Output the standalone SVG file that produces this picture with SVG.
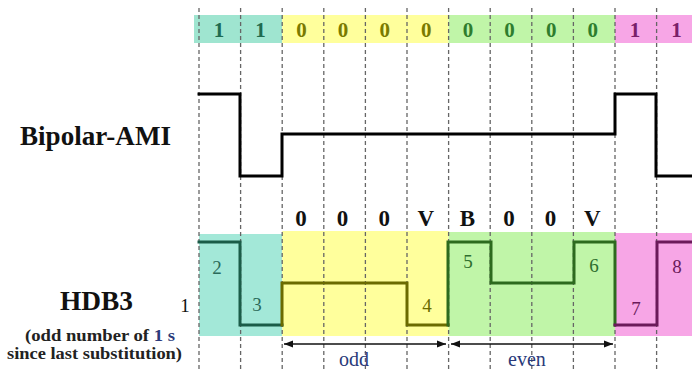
<svg xmlns="http://www.w3.org/2000/svg" width="692" height="370" viewBox="0 0 692 370">
  <style>
    text { font-family: Liberation Serif, Tinos, DejaVu Serif, Times New Roman, serif; }
    .grid { stroke: #666; stroke-width: 1.3; stroke-dasharray: 4 3; fill: none; }
    .bit { font-weight: bold; font-size: 21px; text-anchor: middle; }
    .code { font-weight: bold; font-size: 23px; text-anchor: middle; fill: #111; }
    .num { font-size: 19px; text-anchor: middle; }
    .title { font-weight: bold; font-size: 27px; fill: #111; }
    .note { font-weight: bold; font-size: 17px; fill: #222; }
    .wave { fill: none; stroke-width: 3; stroke-linejoin: miter; stroke-linecap: square; }
    .span { stroke: #111; stroke-width: 1.4; fill: none; }
    .spanlbl { font-size: 20px; text-anchor: middle; fill: #2a3a7a; }
  </style>
  <defs>
    <marker id="arr" viewBox="0 0 10 10" refX="10" refY="5" markerWidth="10" markerHeight="9" markerUnits="userSpaceOnUse" orient="auto-start-reverse">
      <path d="M0,1 L10,5 L0,9 Z" fill="#111"/>
    </marker>
  </defs>

  <!-- bit row backgrounds -->
  <g id="bits">
    <rect x="194" y="15" width="88.2" height="28" fill="#9fe5d0"/>
    <rect x="282.2" y="15" width="166.4" height="28" fill="#ffff9c"/>
    <rect x="448.6" y="15" width="166.4" height="28" fill="#c0f5a8"/>
    <rect x="615" y="15" width="77" height="28" fill="#f7a6e6"/>
    <text class="bit" x="219" y="37" fill="#1f6b50">1</text>
    <text class="bit" x="260.6" y="37" fill="#1f6b50">1</text>
    <text class="bit" x="301.5" y="37" fill="#7a7a00">0</text>
    <text class="bit" x="343.1" y="37" fill="#7a7a00">0</text>
    <text class="bit" x="384.7" y="37" fill="#7a7a00">0</text>
    <text class="bit" x="426.3" y="37" fill="#7a7a00">0</text>
    <text class="bit" x="468" y="37" fill="#2e7d2e">0</text>
    <text class="bit" x="509.6" y="37" fill="#2e7d2e">0</text>
    <text class="bit" x="551.2" y="37" fill="#2e7d2e">0</text>
    <text class="bit" x="592.8" y="37" fill="#2e7d2e">0</text>
    <text class="bit" x="635" y="37" fill="#7a1f6a">1</text>
    <text class="bit" x="676.6" y="37" fill="#7a1f6a">1</text>
  </g>

  <!-- HDB3 shaded bands -->
  <g id="hdb3-bands">
    <rect x="199" y="234" width="83.2" height="102" fill="#a3e8d8"/>
    <rect x="282.2" y="231" width="166.4" height="105" fill="#ffff9c"/>
    <rect x="448.6" y="232" width="166.4" height="104" fill="#c0f5a8"/>
    <rect x="615" y="233" width="77" height="103" fill="#f7a6e6"/>
  </g>

  <!-- bit-period grid -->
  <g id="grid" class="grid">
    <line x1="199" y1="8" x2="199" y2="370"/>
    <line x1="240.6" y1="8" x2="240.6" y2="370"/>
    <line x1="282.2" y1="8" x2="282.2" y2="370"/>
    <line x1="323.8" y1="8" x2="323.8" y2="370"/>
    <line x1="365.4" y1="8" x2="365.4" y2="370"/>
    <line x1="407" y1="8" x2="407" y2="370"/>
    <line x1="448.6" y1="8" x2="448.6" y2="370"/>
    <line x1="490.2" y1="8" x2="490.2" y2="370"/>
    <line x1="531.8" y1="8" x2="531.8" y2="370"/>
    <line x1="573.4" y1="8" x2="573.4" y2="370"/>
    <line x1="615" y1="8" x2="615" y2="370"/>
    <line x1="656.6" y1="8" x2="656.6" y2="370"/>
  </g>

  <!-- Bipolar-AMI -->
  <g id="ami">
    <text class="title" x="20" y="145" textLength="151" lengthAdjust="spacingAndGlyphs">Bipolar-AMI</text>
    <path class="wave" stroke="#000" d="M199,94 H240 V176 H282 V134 H615 V94 H656 V176 H692"/>
  </g>

  <!-- HDB3 -->
  <g id="hdb3">
    <text class="title" x="60" y="310" textLength="73" lengthAdjust="spacingAndGlyphs">HDB3</text>
    <text class="num" x="185" y="312" fill="#111">1</text>
    <text class="note" x="25" y="341" textLength="150" lengthAdjust="spacingAndGlyphs">(odd number of <tspan fill="#2a3a7a">1 s</tspan></text>
    <text class="note" x="7" y="359" textLength="175" lengthAdjust="spacingAndGlyphs">since last substitution)</text>
    <text class="code" x="301" y="226">0</text>
    <text class="code" x="342.6" y="226">0</text>
    <text class="code" x="384.2" y="226">0</text>
    <text class="code" x="425.8" y="226">V</text>
    <text class="code" x="467.4" y="226">B</text>
    <text class="code" x="509" y="226">0</text>
    <text class="code" x="550.6" y="226">0</text>
    <text class="code" x="592.2" y="226">V</text>
    <path class="wave" stroke="#1b5c48" d="M199,242 H240 V325 H282"/>
    <path class="wave" stroke="#6b6b00" d="M282,325 V283 H407 V325 H448"/>
    <path class="wave" stroke="#2d6a1e" d="M448,325 V242 H491 V283 H574 V242 H615 V325"/>
    <path class="wave" stroke="#6b1a5a" d="M615,325 H657 V242 H692"/>
    <text class="num" x="217" y="274" fill="#2a6a5a">2</text>
    <text class="num" x="257" y="311" fill="#2a6a5a">3</text>
    <text class="num" x="427" y="312" fill="#6b6b00">4</text>
    <text class="num" x="468" y="268" fill="#2e6e2e">5</text>
    <text class="num" x="594" y="272" fill="#2e6e2e">6</text>
    <text class="num" x="636" y="315" fill="#6b1a5a">7</text>
    <text class="num" x="677" y="273" fill="#6b1a5a">8</text>
  </g>

  <!-- span arrows -->
  <g id="connectors">
    <line class="span" x1="284" y1="344" x2="446" y2="344" marker-start="url(#arr)" marker-end="url(#arr)"/>
    <line class="span" x1="451" y1="344" x2="613" y2="344" marker-start="url(#arr)" marker-end="url(#arr)"/>
    <text class="spanlbl" x="354" y="366">odd</text>
    <text class="spanlbl" x="527" y="366">even</text>
  </g>
</svg>
